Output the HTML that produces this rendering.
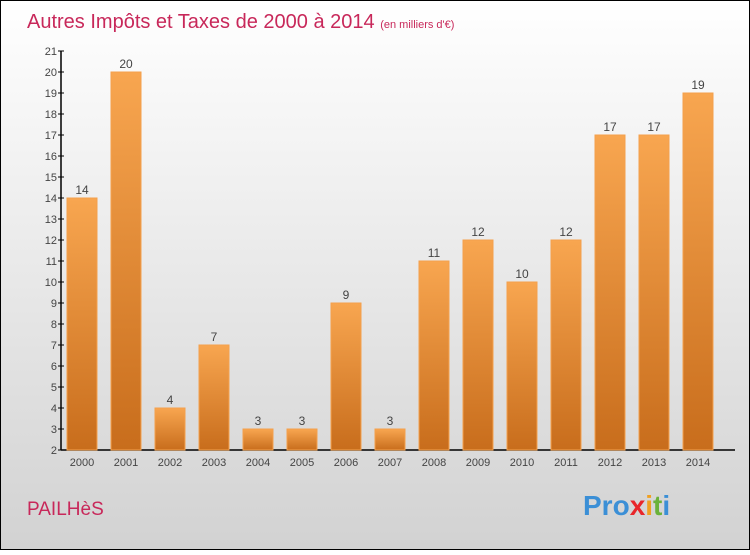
<!DOCTYPE html>
<html><head><meta charset="utf-8"><style>
body{margin:0;width:750px;height:550px;overflow:hidden;font-family:"Liberation Sans",sans-serif}
</style></head><body>
<svg width="750" height="550" xmlns="http://www.w3.org/2000/svg">
<defs>
<linearGradient id="bg" x1="0" y1="0" x2="0" y2="1"><stop offset="0" stop-color="#ffffff"/><stop offset="1" stop-color="#d2d2d2"/></linearGradient>
<linearGradient id="bar" x1="0" y1="0" x2="0" y2="1"><stop offset="0" stop-color="#f8a650"/><stop offset="1" stop-color="#c86d1c"/></linearGradient>
</defs>
<rect x="0.5" y="0.5" width="749" height="549" fill="url(#bg)" stroke="#000"/>
<text x="27" y="28" font-size="20" fill="#c8285a">Autres Impôts et Taxes de 2000 à 2014 <tspan font-size="11">(en milliers d'€)</tspan></text>
<g id="axes"></g><g id="bars"></g>
<text x="27" y="515" font-size="19" fill="#c8285a">PAILHèS</text>
<text x="583" y="515" font-size="28" font-weight="bold"><tspan fill="#3b8fd6">Pro</tspan><tspan fill="#e8262a">x</tspan><tspan fill="#f0a020">i</tspan><tspan fill="#6ab23a">t</tspan><tspan fill="#3b8fd6">i</tspan></text>
</svg>
<script>
const categories=["2000","2001","2002","2003","2004","2005","2006","2007","2008","2009","2010","2011","2012","2013","2014"];
const values=[14,20,4,7,3,3,9,3,11,12,10,12,17,17,19];
const yTicks=[2,3,4,5,6,7,8,9,10,11,12,13,14,15,16,17,18,19,20,21];
const NS="http://www.w3.org/2000/svg";
const y=v=>450-(v-2)*21;
const x=i=>82+i*44;
function mk(t,a,p){const e=document.createElementNS(NS,t);for(const k in a)e.setAttribute(k,a[k]);p.appendChild(e);return e;}
const ax=document.getElementById('axes'),bg=document.getElementById('bars');
let l=mk('line',{x1:61,y1:y(21),x2:61,y2:450.5,stroke:'#000','stroke-width':1.5},ax);


l=mk('line',{x1:61,y1:450,x2:735,y2:450,stroke:'#000','stroke-width':1.5},ax);


yTicks.forEach(v=>{
 const t=mk('line',{x1:58,x2:64,y1:y(v),y2:y(v),stroke:'#000'},ax);
 
 
 const tx=mk('text',{x:57,y:y(v)+4,'font-size':11,fill:'#444','text-anchor':'end'},ax);tx.textContent=v;
 
 
});
categories.forEach((c,i)=>{
 const r=mk('rect',{x:x(i)-15,y:y(values[i]),width:30,height:450-y(values[i]),fill:'url(#bar)',stroke:'#f4a04c','stroke-width':1},bg);
 
 
 const v=mk('text',{x:x(i),y:y(values[i])-4,'font-size':12,fill:'#444','text-anchor':'middle'},bg);v.textContent=values[i];
 
 
 const t=mk('text',{x:x(i),y:466,'font-size':11,fill:'#444','text-anchor':'middle'},bg);t.textContent=c;
 
 
});
</script>
</body></html>
